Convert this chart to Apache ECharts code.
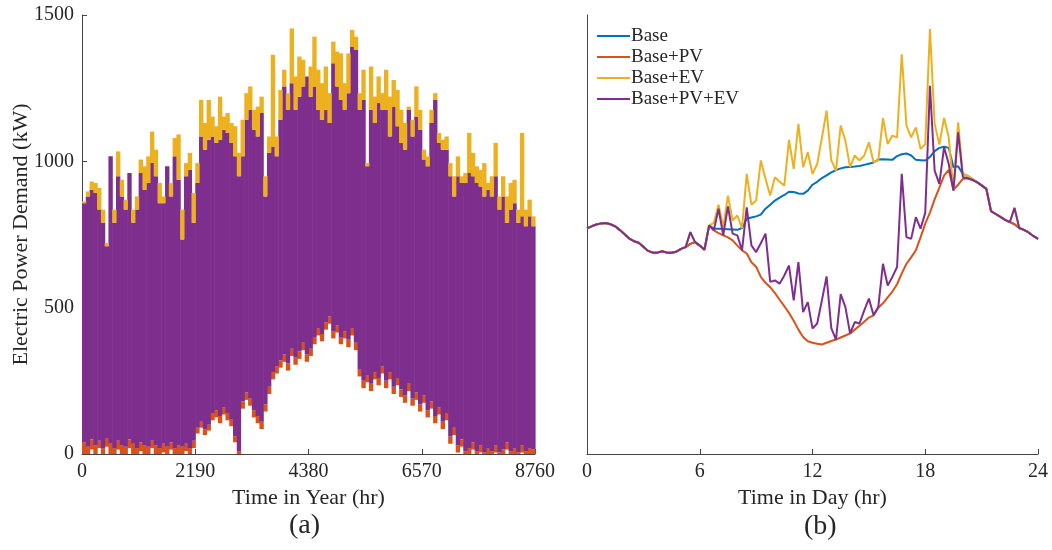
<!DOCTYPE html>
<html>
<head>
<meta charset="utf-8">
<script src="https://cdn.jsdelivr.net/npm/echarts@6/dist/echarts.min.js"></script>
<style>html,body{margin:0;padding:0;background:#fff}#c{width:1052px;height:550px}</style>
</head>
<body>
<div id="c"></div>
<script>
// ---------- Panel (a): yearly demand, summarised per 73-hour bin ----------
const yearTicks = [0, 2190, 4380, 6570, 8760];
const binHours = 73;
// upper envelope of Base+EV
const evMax = [863,897,931,926,909,835,721,1017,835,1034,937,869,960,835,880,1006,983,1017,1102,1040,926,880,983,926,1080,1092,835,994,1029,892,994,1210,1131,1210,1153,1120,1221,1153,1165,1131,
1120,1029,1142,1233,1256,1176,1187,1221,949,1085,1364,1085,1244,1313,1233,1454,1290,1358,1347,1290,1324,1426,1313,1267,1324,1233,1409,1375,1369,1267,1369,1449,1426,1233,1313,994,1324,1221,1290,1233,
1313,1221,1278,1244,1176,1131,1187,1142,1256,1176,1040,1017,1176,1233,1097,1074,1085,994,949,1017,949,960,1097,1029,983,971,994,926,949,1063,880,949,880,926,937,835,1097,835,869,812];
// upper envelope of Base+PV+EV
const pvevMax = [857,880,903,892,835,790,710,1017,790,949,880,835,960,790,835,960,903,926,994,949,857,857,983,880,1017,937,733,949,971,790,926,1085,1040,1074,1085,1063,1074,1108,1097,1063,
1017,949,1017,1142,1176,1108,1085,1165,880,1029,1051,1017,1142,1256,1176,1267,1176,1221,1256,1290,1221,1256,1176,1142,1176,1131,1335,1256,1210,1176,1233,1392,1381,1176,1210,983,1176,1131,1199,1176,
1176,1085,1187,1120,1063,1040,1176,1085,1153,1108,1006,983,1131,1210,1063,1040,1040,949,880,949,926,926,960,949,926,914,880,903,880,949,835,880,790,835,857,790,812,778,812,778];
// lower envelope of Base+PV+EV
const pvevMin = [40,25,50,30,45,20,55,35,20,45,30,25,50,35,20,40,30,25,45,30,20,35,25,40,20,30,25,35,20,45,
90,110,85,100,140,150,130,160,140,120,60,10,180,210,190,150,130,110,170,230,
280,300,320,340,310,360,330,350,380,340,360,400,430,410,450,470,420,440,400,420,
390,430,380,290,250,270,240,280,260,300,250,280,230,260,220,200,240,190,210,170,
200,150,180,130,160,110,140,60,90,30,50,10,20,40,10,30,5,20,10,30,5,15,40,10,20,5,30,10,20,15];
// lower envelope of Base+PV
const pvMin = [0,0,15,0,20,0,25,0,0,15,0,0,20,0,0,10,0,0,20,0,0,5,0,15,0,0,0,10,0,20,
70,90,65,80,115,125,105,135,115,95,40,0,155,185,165,125,105,85,145,205,
255,275,295,315,285,335,305,325,355,315,335,375,405,385,425,445,395,415,375,395,
365,405,355,265,225,245,215,255,235,275,225,255,205,235,195,175,215,165,185,145,
175,125,155,105,135,85,115,35,65,5,25,0,0,15,0,5,0,0,0,5,0,0,15,0,0,0,5,0,0,0];

// ---------- Panel (b): one day, 15-minute steps ----------
const dayTicks = [0, 6, 12, 18, 24];
const dayHours = [0,0.25,0.5,0.75,1,1.25,1.5,1.75,2,2.25,2.5,2.75,3,3.25,3.5,3.75,4,4.25,4.5,4.75,5,5.25,5.5,5.75,
6,6.25,6.5,6.75,7,7.25,7.5,7.75,8,8.25,8.5,8.75,9,9.25,9.5,9.75,10,10.25,10.5,10.75,11,11.25,11.5,11.75,
12,12.25,12.5,12.75,13,13.25,13.5,13.75,14,14.25,14.5,14.75,15,15.25,15.5,15.75,16,16.25,16.5,16.75,17,17.25,17.5,17.75,
18,18.25,18.5,18.75,19,19.25,19.5,19.75,20,20.25,20.5,20.75,21,21.25,21.5,21.75,22,22.25,22.5,22.75,23,23.25,23.5,23.75,24];
const base = [771,778,784,788,789,785,778,765,751,736,727,722,708,694,688,688,693,688,688,691,701,707,718,724,
712,698,781,770,770,769,768,767,766,772,804,808,812,818,838,852,866,876,885,896,895,890,889,900,
920,930,943,952,962,970,976,980,981,982,984,988,992,996,1006,1007,1006,1005,1018,1024,1027,1020,1005,1004,
1003,1015,1035,1046,1050,1046,980,983,957,950,940,929,918,906,830,820,810,800,792,785,772,766,757,745,735];
const basePV = [771,778,784,788,789,785,778,765,751,736,727,722,708,694,688,688,693,688,688,691,701,707,718,724,
712,698,781,764,755,747,740,730,712,696,685,655,640,605,585,570,550,527,505,482,455,425,400,385,
380,377,374,380,386,391,398,405,412,425,438,452,466,474,500,515,535,555,580,617,650,672,696,740,
787,825,870,910,951,971,903,920,940,942,937,929,918,906,830,820,810,800,792,785,772,766,757,745,735];
const baseEV = [771,778,784,788,789,785,778,765,751,736,727,722,708,694,688,688,693,688,688,691,701,707,758,724,
712,698,781,790,852,775,883,798,815,772,957,852,866,1003,940,883,946,930,917,1073,974,1128,980,1031,
957,991,1080,1173,1003,968,1122,1071,980,1020,1003,1020,1065,997,1003,1148,1059,1088,1082,1366,1122,1082,1116,1042,
1059,1452,1128,1057,1148,1082,900,1133,957,950,940,929,918,906,830,820,810,800,792,841,772,766,757,745,735];
const basePVEV = [771,778,784,788,789,785,778,765,751,736,727,722,708,694,688,688,693,688,688,691,701,707,758,724,
712,698,781,764,838,747,846,753,747,696,843,713,690,720,753,588,593,582,610,644,525,656,485,519,
429,446,525,607,430,391,546,502,412,451,446,490,531,474,502,650,576,605,639,957,741,735,809,770,
824,1258,968,923,1048,991,900,1099,946,942,937,929,918,906,830,820,810,800,792,841,772,766,757,745,735];

const seriesNames = ['Base', 'Base+PV', 'Base+EV', 'Base+PV+EV'];
const colors = ['#0072BD', '#D95319', '#EDB120', '#7E2F8E'];
const FONT = "'Liberation Serif', 'Times New Roman', serif";
const TXT = '#262626';
const AX = '#444';

function binData(lo, hi) {
  return lo.map((v, i) => [i * binHours, (i + 1) * binHours, v, hi[i]]);
}
function rangeRender(color) {
  return function (params, api) {
    const p0 = api.coord([api.value(0), api.value(3)]);
    const p1 = api.coord([api.value(1), api.value(2)]);
    return {
      type: 'rect',
      shape: { x: p0[0], y: p0[1], width: p1[0] - p0[0] + 0.6, height: p1[1] - p0[1] },
      style: { fill: color }
    };
  };
}
function pairs(ys) { return dayHours.map((h, i) => [h, ys[i]]); }
const plain = v => String(v);

const chart = echarts.init(document.getElementById('c'), null, { renderer: 'canvas' });
const axisCommon = {
  axisLine: { show: true, lineStyle: { color: AX, width: 1 } },
  axisTick: { show: true, inside: true, length: 5, lineStyle: { color: AX } },
  splitLine: { show: false },
  axisLabel: { color: TXT, fontSize: 20, fontFamily: FONT, formatter: plain },
  nameTextStyle: { color: TXT, fontSize: 22, fontFamily: FONT }
};
chart.setOption({
  animation: false,
  backgroundColor: '#fff',
  grid: [
    { left: 82, right: 517, top: 15, bottom: 96 },
    { left: 587, right: 14, top: 15, bottom: 96 }
  ],
  xAxis: [
    Object.assign({}, axisCommon, {
      gridIndex: 0, type: 'value', min: yearTicks[0], max: yearTicks[4], interval: 2190,
      name: 'Time in Year (hr)', nameLocation: 'middle', nameGap: 32,
      axisLabel: Object.assign({}, axisCommon.axisLabel, { margin: 8 })
    }),
    Object.assign({}, axisCommon, {
      gridIndex: 1, type: 'value', min: dayTicks[0], max: dayTicks[4], interval: 6,
      name: 'Time in Day (hr)', nameLocation: 'middle', nameGap: 32,
      axisLabel: Object.assign({}, axisCommon.axisLabel, { margin: 8 })
    })
  ],
  yAxis: [
    Object.assign({}, axisCommon, {
      gridIndex: 0, type: 'value', min: 0, max: 1500, interval: 500,
      name: 'Electric Power Demand (kW)', nameLocation: 'middle', nameGap: 50, nameMoveOverlap: false,
      axisLabel: Object.assign({}, axisCommon.axisLabel, { margin: 8 })
    }),
    {
      gridIndex: 1, type: 'value', min: 0, max: 1500,
      axisLine: { show: true, lineStyle: { color: AX, width: 1 } },
      axisTick: { show: false }, axisLabel: { show: false }, splitLine: { show: false }
    }
  ],
  legend: {
    data: seriesNames,
    icon: 'rect',
    orient: 'vertical', left: 592, top: 21, itemWidth: 33, itemHeight: 2, itemGap: 1,
    textStyle: { color: TXT, fontSize: 19, fontFamily: FONT, padding: [0, 0, 0, -4], lineHeight: 20 }
  },
  graphic: [
    { type: 'text', left: 289, top: 512, style: { text: '(a)', fontSize: 28, fontFamily: FONT, fill: TXT } },
    { type: 'text', left: 804, top: 513, style: { text: '(b)', fontSize: 28, fontFamily: FONT, fill: TXT } }
  ],
  series: [
    { type: 'custom', xAxisIndex: 0, yAxisIndex: 0, renderItem: rangeRender(colors[1]), data: binData(pvMin, pvevMin), encode: { x: [0, 1], y: [2, 3] }, silent: true },
    { type: 'custom', xAxisIndex: 0, yAxisIndex: 0, renderItem: rangeRender(colors[3]), data: binData(pvevMin, pvevMax), encode: { x: [0, 1], y: [2, 3] }, silent: true },
    { type: 'custom', xAxisIndex: 0, yAxisIndex: 0, renderItem: rangeRender(colors[2]), data: binData(pvevMax, evMax), encode: { x: [0, 1], y: [2, 3] }, silent: true },
    { name: seriesNames[0], type: 'line', xAxisIndex: 1, yAxisIndex: 1, data: pairs(base), symbol: 'none', lineStyle: { width: 2, color: colors[0] }, itemStyle: { color: colors[0] } },
    { name: seriesNames[1], type: 'line', xAxisIndex: 1, yAxisIndex: 1, data: pairs(basePV), symbol: 'none', lineStyle: { width: 2, color: colors[1] }, itemStyle: { color: colors[1] } },
    { name: seriesNames[2], type: 'line', xAxisIndex: 1, yAxisIndex: 1, data: pairs(baseEV), symbol: 'none', lineStyle: { width: 2, color: colors[2] }, itemStyle: { color: colors[2] } },
    { name: seriesNames[3], type: 'line', xAxisIndex: 1, yAxisIndex: 1, data: pairs(basePVEV), symbol: 'none', lineStyle: { width: 2, color: colors[3] }, itemStyle: { color: colors[3] } }
  ]
});
</script>
</body>
</html>
